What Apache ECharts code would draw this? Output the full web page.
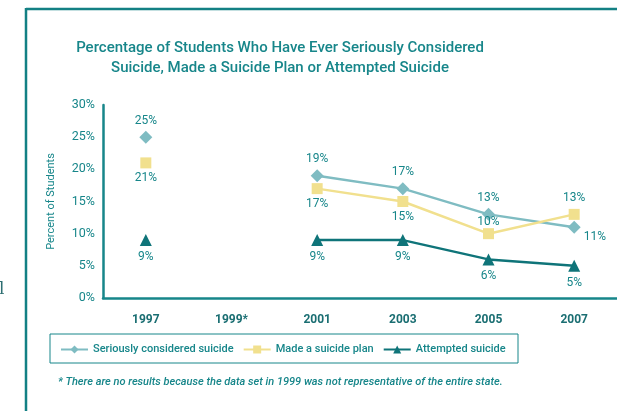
<!DOCTYPE html>
<html><head><meta charset="utf-8">
<script src="https://cdn.jsdelivr.net/npm/echarts@6/dist/echarts.min.js"></script>
<style>html,body{margin:0;padding:0;background:#fff}#c{width:617px;height:411px}</style>
</head><body><div id="c"></div>
<script>
const years = ['1997', '1999*', '2001', '2003', '2005', '2007'];
const considered = [25, null, 19, 17, 13, 11];
const plan = [21, null, 17, 15, 10, 13];
const attempted = [9, null, 9, 9, 6, 5];
const seriesNames = ['Seriously considered suicide', 'Made a suicide plan', 'Attempted suicide'];
const yTicks = [0, 5, 10, 15, 20, 25, 30];

const TEAL = '#17868a';
const FONT = 'Roboto';
const chart = echarts.init(document.getElementById('c'), null, {renderer: 'canvas'});

function lbl(pos, dist, extra) {
  return Object.assign({show: true, position: pos, distance: dist, formatter: '{c}%', color: TEAL, fontSize: 12, fontFamily: FONT}, extra || {});
}

function mkData(arr, overrides) {
  return arr.map((v, i) => {
    if (v === null) return null;
    const o = {value: v};
    if (overrides && overrides[i]) o.label = overrides[i];
    return o;
  });
}

chart.setOption({
  animation: false,
  title: {
    text: 'Percentage of Students Who Have Ever Seriously Considered\nSuicide, Made a Suicide Plan or Attempted Suicide',
    left: 275, top: 33, textAlign: 'center',
    textStyle: {color: TEAL, fontSize: 15, fontWeight: 500, fontFamily: FONT, lineHeight: 20}
  },
  grid: {left: 103, top: 105, width: 516, height: 193, containLabel: false},
  legend: {
    left: 55, top: 339, itemWidth: 27, itemHeight: 10, itemGap: 9,
    textStyle: {color: TEAL, fontSize: 11, fontWeight: 500, fontFamily: FONT},
    data: seriesNames
  },
  xAxis: {
    type: 'category', data: years, boundaryGap: true,
    axisLine: {lineStyle: {color: TEAL, width: 2.5}},
    axisTick: {show: false},
    axisLabel: {color: '#1a6e72', fontWeight: 'bold', fontSize: 12, fontFamily: FONT, margin: 16}
  },
  yAxis: {
    type: 'value', min: 0, max: 30, interval: 5,
    name: 'Percent of Students', nameLocation: 'middle', nameGap: 46,
    nameTextStyle: {color: TEAL, fontSize: 11, fontFamily: FONT},
    axisLine: {show: true, lineStyle: {color: TEAL, width: 2.5}},
    axisTick: {show: false},
    splitLine: {show: false},
    axisLabel: {color: TEAL, fontSize: 12.5, fontFamily: FONT, margin: 8, formatter: v => yTicks.includes(v) ? v + '%' : ''}
  },
  series: [
    {
      name: seriesNames[0], type: 'line', connectNulls: false,
      symbol: 'diamond', symbolSize: 13,
      itemStyle: {color: '#7fbcc2'}, lineStyle: {color: '#7fbcc2', width: 2.5},
      label: lbl('top', 4),
      data: mkData(considered, {5: lbl('right', 3, {offset: [0, 10]})})
    },
    {
      name: seriesNames[1], type: 'line', connectNulls: false,
      symbol: 'rect', symbolSize: 11,
      itemStyle: {color: '#f1e08e'}, lineStyle: {color: '#f1e08e', width: 2.5},
      label: lbl('bottom', 4),
      data: mkData(plan, {4: lbl('top', 0), 5: lbl('top', 5)})
    },
    {
      name: seriesNames[2], type: 'line', connectNulls: false,
      symbol: 'triangle', symbolSize: 12,
      itemStyle: {color: '#0f7479'}, lineStyle: {color: '#0f7479', width: 2.5},
      label: lbl('bottom', 5),
      data: mkData(attempted)
    }
  ],
  graphic: [
    {type: 'line', shape: {x1: 26, y1: 9, x2: 620, y2: 9}, style: {stroke: '#138084', lineWidth: 2.5}},
    {type: 'line', shape: {x1: 26, y1: 8, x2: 26, y2: 420}, style: {stroke: '#138084', lineWidth: 2.5}},
    {type: 'rect', shape: {x: 50, y: 334, width: 468, height: 29}, style: {fill: 'none', stroke: TEAL, lineWidth: 1}},
    {type: 'text', x: 58, y: 377, style: {text: '* There are no results because the data set in 1999 was not representative of the entire state.', fill: TEAL, fontSize: 11, fontStyle: 'italic', fontWeight: 500, fontFamily: FONT}},
    {type: 'text', x: -1, y: 281, style: {text: 'l', fill: '#2e6f72', fontSize: 17, fontFamily: 'DejaVu Serif'}}
  ]
});
</script></body></html>
